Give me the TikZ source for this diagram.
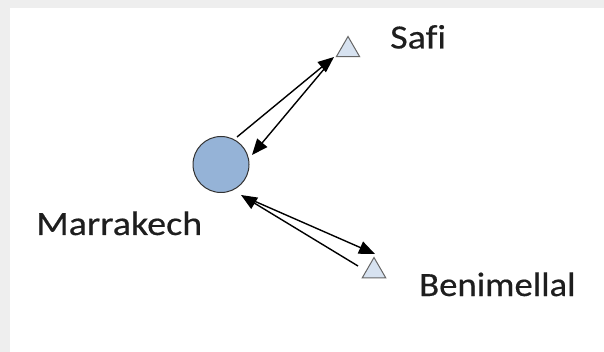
\documentclass[tikz,border=0pt]{standalone}
\usepackage{fontspec}
\setmainfont[Ligatures=NoCommon,FakeBold=0.4]{Carlito}
\usetikzlibrary{arrows.meta,shapes.geometric}
\definecolor{cityblue}{HTML}{95B3D7}
\definecolor{portfill}{HTML}{D7E2F0}
\definecolor{labelink}{HTML}{1E1E1E}
\definecolor{framegray}{HTML}{EEEEEE}
\tikzset{
  city/.style={circle,draw=black!80,line width=1pt,fill=cityblue,minimum size=56pt,inner sep=0pt},
  port/.style={regular polygon,regular polygon sides=3,draw=black!60,line width=1pt,fill=portfill,minimum size=27pt,inner sep=0pt},
  place/.style={text=labelink,font=\fontsize{34}{40}\selectfont,inner sep=0pt,anchor=base west},
  flow/.style={line width=1.4pt,-{Triangle[length=16pt,width=13pt]}},
}
\begin{document}
\begin{tikzpicture}[x=1pt,y=-1pt]
  % page frame
  \fill[framegray] (0,0) rectangle (604,352);
  \fill[white] (10,8) rectangle (604,352);
  \useasboundingbox (0,0) rectangle (604,352);

  % places
  \node[city] (M) at (221,164.5) {};
  \node[port] (S) at (348,50) {};
  \node[port] (B) at (374,271) {};

  \node[place] (Mlabel) at (36,235) {\scalebox{1.12}[1]{Marrakech}};
  \node[place] (Slabel) at (390,48.5) {\scalebox{1.12}[1]{Safi}};
  \node[place] (Blabel) at (419,296) {\scalebox{1.08}[1]{Benimellal}};

  % connector end points
  \coordinate (mS1) at (237,137);
  \coordinate (mS2) at (252,155);
  \coordinate (mB1) at (241,195);
  \coordinate (mB2) at (245,197);
  \coordinate (s1) at (334,57);
  \coordinate (s2) at (330,62);
  \coordinate (b1) at (375,254);
  \coordinate (b2) at (358,266);

  % flows
  \draw[flow] (mS1) -- (s1);
  \draw[flow] (s2) -- (mS2);
  \draw[flow] (b2) -- (mB1);
  \draw[flow] (mB2) -- (b1);
\end{tikzpicture}
\end{document}
